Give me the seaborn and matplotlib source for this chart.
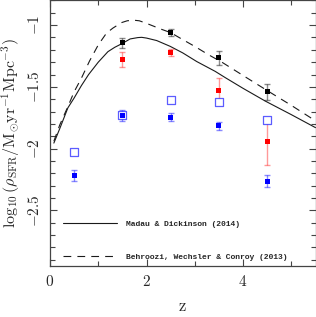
import numpy as np
import pandas as pd
import matplotlib
matplotlib.use("Agg")
import matplotlib.pyplot as plt
import seaborn as sns
from matplotlib.ticker import MultipleLocator, FixedLocator, FixedFormatter

# ---- data ----
md_z = [0.08, 0.2, 0.37, 0.5, 0.65, 0.8, 1.0, 1.2, 1.34, 1.5, 1.66, 1.82, 1.9, 2.0,
        2.21, 2.49, 2.75, 3.04, 3.42, 3.63, 4.0, 4.46, 5.0, 5.5]
md_y = [-1.955, -1.84, -1.67, -1.59, -1.49, -1.40, -1.30, -1.215, -1.18, -1.148, -1.112,
        -1.101, -1.099, -1.105, -1.125, -1.172, -1.225, -1.295, -1.374, -1.425, -1.512,
        -1.615, -1.725, -1.83]

b13_z = [0.08, 0.2, 0.37, 0.5, 0.65, 0.82, 1.0, 1.17, 1.3, 1.48, 1.6, 1.73, 1.85, 2.0,
         2.31, 2.5, 2.73, 3.01, 3.28, 3.56, 4.0, 4.5, 5.0, 5.5]
b13_y = [-1.94, -1.81, -1.66, -1.54, -1.43, -1.29, -1.16, -1.065, -1.025, -0.98, -0.965,
         -0.96, -0.965, -0.986, -1.034, -1.061, -1.113, -1.175, -1.239, -1.30, -1.408,
         -1.53, -1.65, -1.775]

pts_z = [1.5, 2.5, 3.5, 4.5]
black_y = [-1.142, -1.061, -1.266, -1.538]
black_err = [0.04, 0.027, 0.054, 0.065]
red_y = [-1.28, -1.22, -1.528, -1.942]
red_err = [0.06, 0.03, 0.097, 0.19]

blue_z = [0.5, 1.5, 2.5, 3.5, 4.5]
blue_y = [-2.217, -1.733, -1.746, -1.816, -2.263]
blue_err = [0.046, 0.046, 0.032, 0.032, 0.049]
open_y = [-2.031, -1.725, -1.608, -1.622, -1.77]

legend_labels = ["Madau & Dickinson (2014)", "Behroozi, Wechsler & Conroy (2013)"]
xtick_vals = [0, 2, 4]
ytick_vals = [-2.5, -2, -1.5, -1]

# ---- figure ----
sns.set_theme(style="ticks")
plt.rcParams["font.family"] = ["DejaVu Serif"]
plt.rcParams["mathtext.fontset"] = "cm"

fig = plt.figure(figsize=(3.16, 3.17), dpi=100)
ax = fig.add_axes([50 / 316, 51 / 317, 265.5 / 316, 265.6 / 317])

md_df = pd.DataFrame({"z": md_z, "y": md_y})
b13_df = pd.DataFrame({"z": b13_z, "y": b13_y})
sns.lineplot(data=md_df, x="z", y="y", ax=ax, color="#1a1a1a", lw=0.8,
             label=legend_labels[0], sort=False)
sns.lineplot(data=b13_df, x="z", y="y", ax=ax, color="#1a1a1a", lw=0.8,
             label=legend_labels[1], sort=False)
ax.lines[1].set_dashes([7, 5.5])

# error bars (light)
ax.errorbar(pts_z, black_y, yerr=black_err, fmt="none", ecolor=(0, 0, 0, 0.45),
            elinewidth=1.0, capsize=2.2, capthick=1.0, zorder=3)
ax.errorbar(pts_z, red_y, yerr=red_err, fmt="none", ecolor=(1, 0, 0, 0.4),
            elinewidth=1.0, capsize=2.2, capthick=1.0, zorder=3)
ax.errorbar(blue_z, blue_y, yerr=blue_err, fmt="none", ecolor=(0, 0, 1, 0.45),
            elinewidth=1.0, capsize=2.2, capthick=1.0, zorder=3)

# open blue squares
ax.scatter(blue_z, open_y, marker="s", s=30, facecolor="white",
           edgecolor=(0.15, 0.15, 1.0, 0.75), linewidths=0.9, zorder=4)

# filled squares
sns.scatterplot(x=pts_z, y=black_y, ax=ax, marker="s", s=13, color="black",
                edgecolor="none", zorder=5)
sns.scatterplot(x=pts_z, y=red_y, ax=ax, marker="s", s=13, color="red",
                edgecolor="none", zorder=5)
sns.scatterplot(x=blue_z, y=blue_y, ax=ax, marker="s", s=13, color="blue",
                edgecolor="none", zorder=5)

ax.set_xlim(0, 5.5)
ax.set_ylim(-2.95, -0.8)

ax.xaxis.set_major_locator(FixedLocator(xtick_vals))
ax.xaxis.set_major_formatter(FixedFormatter([rf"${v}$" for v in xtick_vals]))
ax.xaxis.set_minor_locator(MultipleLocator(1))
ax.yaxis.set_major_locator(FixedLocator(ytick_vals))
ax.yaxis.set_major_formatter(FixedFormatter([rf"${v:g}$" for v in ytick_vals]))
ax.yaxis.set_minor_locator(MultipleLocator(0.1))

ax.tick_params(which="both", direction="in", top=True, right=True, color="#444444",
               labelsize=11, width=0.8)
ax.tick_params(which="major", length=5, pad=6)
ax.tick_params(which="minor", length=3.5)
for lab in ax.get_yticklabels():
    lab.set_rotation(90)
    lab.set_va("center")
for s in ax.spines.values():
    s.set_color("#444444")
    s.set_linewidth(0.9)

ax.set_xlabel(r"$\mathrm{z}$", fontsize=12, labelpad=6)
ax.set_ylabel(r"$\log_{10}(\rho_{\rm SFR}/{\rm M_{\odot}yr^{-1}Mpc^{-3}})$", fontsize=11.5,
              labelpad=3)

leg = ax.legend(loc="lower left", bbox_to_anchor=(0.05, 0.02), frameon=False,
                prop={"family": "Liberation Mono", "size": 5.8, "weight": "bold"},
                handlelength=6.7, labelspacing=3.1, handletextpad=1.1,
                borderpad=0, borderaxespad=0)
for h in leg.get_lines():
    h.set_linewidth(0.8)

fig.savefig("out.png", dpi=100)
